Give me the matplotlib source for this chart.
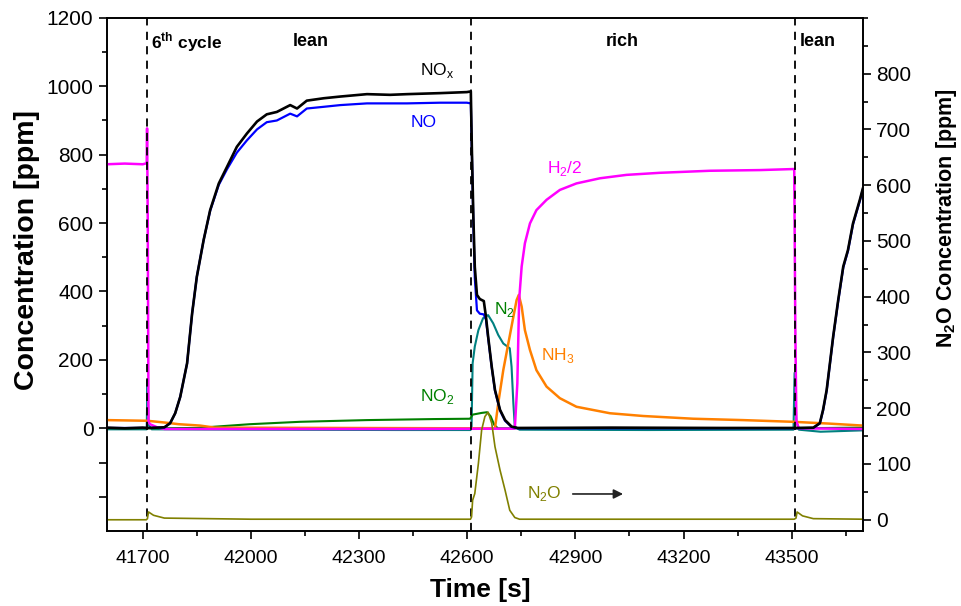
import matplotlib
matplotlib.use("Agg")
import matplotlib.pyplot as plt
from matplotlib.ticker import MultipleLocator, FixedLocator

plt.rcParams['font.family'] = ['Liberation Sans', 'DejaVu Sans']
plt.rcParams['mathtext.fontset'] = 'custom'
plt.rcParams['mathtext.rm'] = 'Liberation Sans'
plt.rcParams['mathtext.bf'] = 'Liberation Sans:bold'

# ---------------- data ----------------
cycle_bounds = [41712, 42611, 43508]

nox_t = [41600, 41650, 41700, 41713, 41740, 41760, 41776, 41790, 41804, 41823, 41837, 41850,
         41869, 41887, 41911, 41934, 41961, 41989, 42017, 42044, 42072, 42109, 42128, 42155,
         42202, 42248, 42322, 42386, 42433, 42525, 42599, 42610, 42613, 42617, 42621, 42627,
         42635, 42646, 42652, 42658, 42668, 42677, 42691, 42705, 42723, 42740, 43000, 43300,
         43507, 43560, 43578, 43587, 43597, 43606, 43615, 43629, 43643, 43656, 43670, 43689, 43697]
nox_v = [2, 0, 2, 1, 2, 3, 15, 44, 92, 190, 336, 443,
         551, 638, 716, 765, 823, 862, 897, 918, 925, 945, 935, 958,
         965, 970, 977, 975, 977, 980, 983, 985, 810, 620, 472, 390,
         378, 372, 326, 268, 180, 112, 54, 24, 5, 1, 2, 1,
         1, 2, 15, 54, 112, 190, 268, 375, 473, 521, 599, 668, 700]

no_t = [41600, 41713, 41760, 41776, 41790, 41804, 41823, 41837, 41850, 41869, 41887, 41911,
        41934, 41961, 41989, 42017, 42044, 42072, 42109, 42128, 42155, 42202, 42248, 42322,
        42386, 42433, 42525, 42599, 42610, 42613, 42617, 42621, 42627, 42635, 42646, 42652,
        42658, 42668, 42677, 42691, 42705, 42723, 42740, 43507, 43560, 43578, 43587, 43597,
        43606, 43615, 43629, 43643, 43656, 43670, 43689, 43697]
no_v = [1, 1, 2, 15, 44, 92, 190, 336, 443, 551, 636, 712,
        758, 806, 842, 874, 895, 900, 920, 912, 935, 940, 945, 950,
        950, 950, 952, 952, 950, 800, 600, 440, 345, 335, 333, 318,
        265, 178, 110, 52, 22, 4, 0, 0, 1, 14, 52, 110,
        188, 266, 372, 470, 518, 596, 665, 697]

no2_t = [41600, 41713, 41850, 41997, 42136, 42321, 42506, 42608, 42615, 42640, 42655, 42665,
         42675, 42685, 43507, 43697]
no2_v = [0, 0, 1, 12, 19, 24, 27, 28, 40, 45, 47, 35,
         10, 0, 0, 2]

n2_t = [41600, 41711, 41713, 41716, 41725, 42000, 42400, 42609, 42612, 42615, 42621, 42631,
        42644, 42658, 42672, 42686, 42700, 42718, 42723, 42728, 42732, 42745, 43100, 43505,
        43508, 43513, 43520, 43580, 43697]
n2_v = [-3, -3, 140, 10, -3, -4, -5, -5, 0, 190, 239, 287,
        322, 331, 307, 273, 248, 234, 180, 73, 5, -4, -5, -4,
        162, 20, -4, -10, -6]

nh3_t = [41600, 41713, 41760, 41800, 41859, 41900, 42600, 42677, 42686, 42700, 42714, 42728,
         42737, 42743, 42751, 42760, 42774, 42792, 42820, 42857, 42903, 42996, 43088, 43227,
         43365, 43504, 43600, 43697]
nh3_v = [24, 22, 17, 12, 8, 2, 0, 0, 73, 170, 248, 326,
         375, 390, 356, 287, 229, 170, 122, 88, 63, 44, 36, 28,
         24, 19, 14, 8]

h2_t = [41600, 41650, 41700, 41711, 41712, 41714, 41716, 41720, 41740, 41760, 42000, 42400,
        42732, 42739, 42744, 42751, 42760, 42774, 42792, 42820, 42857, 42903, 42968, 43042,
        43134, 43273, 43412, 43504, 43507, 43510, 43513, 43520, 43697]
h2_v = [772, 774, 772, 775, 877, 600, 20, 12, 3, -2, -2, -2,
        -1, 131, 375, 473, 541, 599, 638, 668, 697, 716, 731, 741,
        747, 753, 755, 758, 758, 300, 20, 0, -2]

n2o_t = [41600, 41710, 41713, 41716, 41730, 41760, 42000, 42300, 42609, 42612, 42615, 42621,
         42631, 42640, 42649, 42658, 42668, 42677, 42691, 42705, 42718, 42732, 42745, 43000,
         43300, 43507, 43512, 43515, 43530, 43560, 43697]
n2o_v = [0, 0, 2, 14, 8, 3, 1, 1, 1, 5, 35, 47,
         101, 161, 185, 193, 173, 131, 89, 53, 17, 4, 1, 1,
         1, 1, 3, 14, 7, 2, 1]

# ---------------- figure ----------------
fig = plt.figure(figsize=(9.62, 6.06), dpi=100)
ax = fig.add_axes([0.1109, 0.1239, 0.7859, 0.8466])
ax2 = ax.twinx()

ax.plot(n2_t, n2_v, color='#008080', lw=1.5, zorder=2)
ax.plot(no2_t, no2_v, color='#008000', lw=1.5, zorder=2)
ax.plot(nh3_t, nh3_v, color='#FF8000', lw=1.8, zorder=3)
ax.plot(h2_t, h2_v, color='#FF00FF', lw=1.8, zorder=4)
ax.plot(no_t, no_v, color='#0000FF', lw=1.6, zorder=5)
ax.plot(nox_t, nox_v, color='black', lw=1.9, zorder=6)
ax2.plot(n2o_t, n2o_v, color='#808000', lw=1.2)

for tb in cycle_bounds:
    ax.axvline(tb, color='black', lw=1.3, ls=(0, (4.5, 3.5)), zorder=7)

ax.set_xlim(41600, 43697)
ax.set_ylim(-300, 1200)
ax2.set_ylim(-20, 900)

ax.xaxis.set_major_locator(FixedLocator([41700, 42000, 42300, 42600, 42900, 43200, 43500]))
ax.xaxis.set_minor_locator(FixedLocator([41850, 42150, 42450, 42750, 43050, 43350, 43650]))
ax.yaxis.set_major_locator(FixedLocator([-200, -100, 0, 200, 400, 600, 800, 1000, 1200]))
ax.set_yticklabels(['', '', '0', '200', '400', '600', '800', '1000', '1200'])
ax.yaxis.set_minor_locator(FixedLocator([100, 300, 500, 700, 900, 1100]))
ax2.yaxis.set_minor_locator(MultipleLocator(50))
ax2.set_yticks([0, 100, 200, 300, 400, 500, 600, 700, 800])

for a in (ax, ax2):
    a.tick_params(which='major', direction='out', length=6, width=1.2, labelsize=15)
    a.tick_params(which='minor', direction='out', length=3.5, width=1.2)
    for s in a.spines.values():
        s.set_linewidth(1.2)
ax.tick_params(axis='x', pad=8, labelsize=14)

ax.set_xlabel('Time [s]', fontsize=19, fontweight='bold')
ax.set_ylabel('Concentration [ppm]', fontsize=20.5, fontweight='bold')
ax2.set_ylabel(r'N$_\mathbf{2}$O Concentration [ppm]', fontsize=15.5, fontweight='bold')
ax.xaxis.set_label_coords(0.494, -0.092)
ax.yaxis.set_label_coords(-0.088, 0.548)
ax2.yaxis.set_label_coords(1.094, 0.61)

# phase labels
ax.text(41722, 1130, r'6$^{\mathbf{th}}$ cycle', fontsize=12.5, fontweight='bold', va='center', ha='left')
ax.text(42167, 1130, 'lean', fontsize=13, fontweight='bold', va='center', ha='center')
ax.text(43030, 1130, 'rich', fontsize=13, fontweight='bold', va='center', ha='center')
ax.text(43573, 1130, 'lean', fontsize=13, fontweight='bold', va='center', ha='center')

# species labels
ax.text(42469, 1045, r'NO$_\mathrm{x}$', fontsize=12.5, color='black', va='center')
ax.text(42442, 893, 'NO', fontsize=12.5, color='#0000FF', va='center')
ax.text(42821, 761, r'H$_2$/2', fontsize=12.5, color='#FF00FF', va='center')
ax.text(42675, 346, r'N$_2$', fontsize=12.5, color='#008000', va='center')
ax.text(42804, 214, r'NH$_3$', fontsize=12.5, color='#FF8000', va='center')
ax.text(42469, 94, r'NO$_2$', fontsize=12.5, color='#008000', va='center')
ax.text(42765, -192, r'N$_2$O', fontsize=12.5, color='#808000', va='center')
ax.annotate('', xy=(43040, -192), xytext=(42885, -192),
            arrowprops=dict(arrowstyle='-|>', color='#222222', lw=1.2, mutation_scale=14))

fig.savefig('out.png', dpi=100)
